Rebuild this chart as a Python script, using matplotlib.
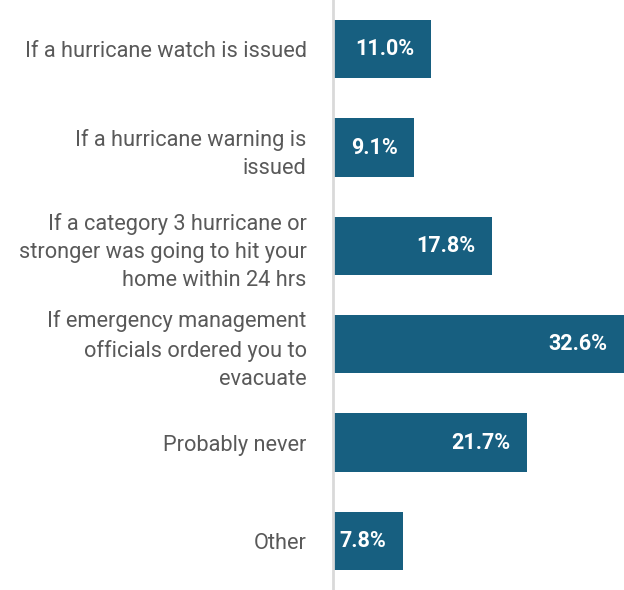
import matplotlib.pyplot as plt

labels = [
    "If a hurricane watch is issued",
    "If a hurricane warning is\nissued",
    "If a category 3 hurricane or\nstronger was going to hit your\nhome within 24 hrs",
    "If emergency management\nofficials ordered you to\nevacuate",
    "Probably never",
    "Other",
]
values = [11.0, 9.1, 17.8, 32.6, 21.7, 7.8]

bar_color = "#175f80"
text_color = "#595959"

fig = plt.figure(figsize=(6.24, 5.90), dpi=100)
ax = fig.add_axes([333 / 624, 0, 1 - 333 / 624, 1])

ypos = list(range(len(values)))
ax.barh(ypos, values, height=0.59, color=bar_color)
ax.set_xlim(0, max(values))
ax.set_ylim(len(values) - 0.5, -0.5)

for y, v in zip(ypos, values):
    ax.annotate(f"{v:.1f}%", xy=(v, y), xytext=(-12, 0), textcoords="offset points",
                ha="right", va="center", color="white", fontsize=15.5,
                fontweight="bold", family="Roboto")

ax.set_yticks(ypos)
ax.set_yticklabels(labels, fontsize=15.7, color=text_color, family="Roboto",
                   linespacing=1.45)
ax.tick_params(axis="y", length=0, pad=19)
ax.set_xticks([])
for side in ["top", "right", "bottom"]:
    ax.spines[side].set_visible(False)
ax.spines["left"].set_color("#d9d9d9")
ax.spines["left"].set_linewidth(2)

fig.savefig("out.png", dpi=100)
